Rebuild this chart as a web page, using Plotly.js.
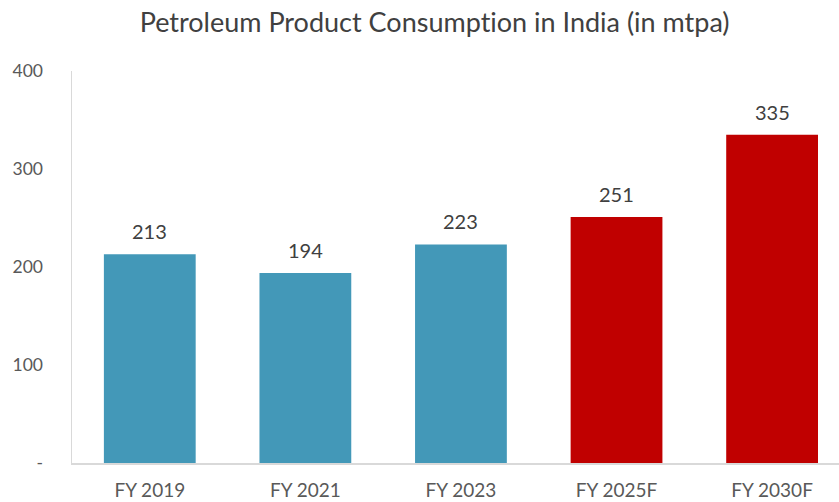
<!DOCTYPE html>
<html>
<head>
<meta charset="utf-8">
<script src="https://cdn.plot.ly/plotly-3.0.1.min.js"></script>
<style>html,body{margin:0;padding:0;background:#fff;}#chart{width:839px;height:502px;}
#chart text{font-variant-ligatures:none;font-feature-settings:"liga" 0;}</style>
</head>
<body>
<div id="chart"></div>
<script>
const categories = ["FY 2019", "FY 2021", "FY 2023", "FY 2025F", "FY 2030F"];
const values = [213, 194, 223, 251, 335];
const barColors = ["#4398B8", "#4398B8", "#4398B8", "#C00000", "#C00000"];
const yTickVals = [0, 100, 200, 300, 400];
const yTickText = ["-", "100", "200", "300", "400"];

const FONT = "Lato, 'Open Sans', sans-serif";

const trace = {
  type: "bar",
  x: categories,
  y: values,
  marker: {color: barColors},
  hoverinfo: "none"
};

const annotations = categories.map((c, i) => ({
  x: c, y: values[i], xref: "x", yref: "y",
  text: String(values[i]), showarrow: false,
  yanchor: "bottom", yshift: 9,
  font: {family: FONT, size: 20, color: "#404040"}
}));

const layout = {
  width: 839, height: 502,
  margin: {l: 72, r: 0, t: 71, b: 39},
  paper_bgcolor: "#fff", plot_bgcolor: "#fff",
  bargap: 0.41,
  showlegend: false,
  title: {
    text: "Petroleum Product Consumption in India (in mtpa)",
    x: 0.518, xanchor: "center", y: 0.955, yanchor: "middle",
    font: {family: FONT, size: 27, color: "#404040"}
  },
  xaxis: {
    type: "category",
    range: [-0.5, 4.43],
    showline: true, linecolor: "#D9D9D9", linewidth: 1.5,
    showgrid: false, zeroline: false, ticks: "",
    ticklabelstandoff: 10,
    tickfont: {family: FONT, size: 19, color: "#595959"}
  },
  yaxis: {
    range: [0, 400],
    tickvals: yTickVals, ticktext: yTickText,
    showline: true, linecolor: "#D9D9D9", linewidth: 1.5,
    showgrid: false, zeroline: false, ticks: "",
    ticklabelstandoff: 24,
    tickfont: {family: FONT, size: 17.5, color: "#595959"}
  },
  annotations: annotations
};

Plotly.newPlot("chart", [trace], layout, {staticPlot: true, displayModeBar: false});
</script>
</body>
</html>
